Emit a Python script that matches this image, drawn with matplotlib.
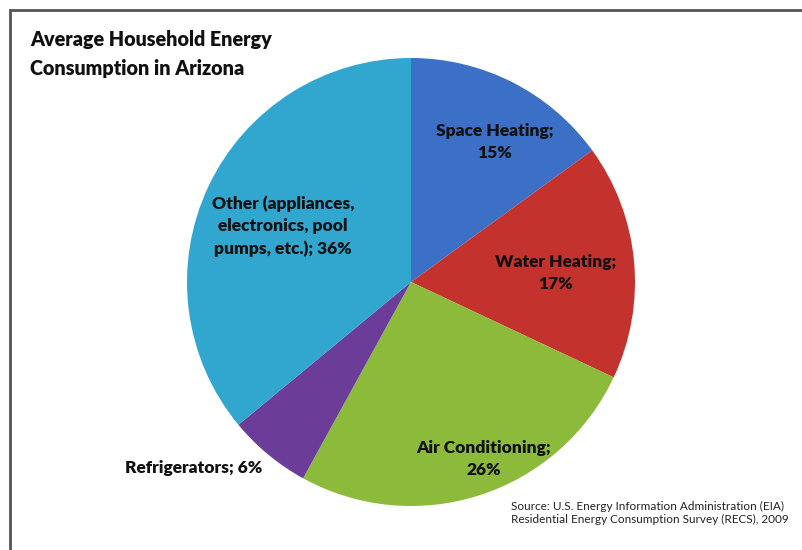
import matplotlib
matplotlib.use("Agg")
import matplotlib.pyplot as plt
from matplotlib.patches import Rectangle

# Data
categories = ["Space Heating", "Water Heating", "Air Conditioning", "Refrigerators",
              "Other (appliances, electronics, pool pumps, etc.)"]
shares = [15, 17, 26, 6, 36]
label_texts = ["Space Heating;\n15%", "Water Heating;\n17%", "Air Conditioning;\n26%",
               "Refrigerators; 6%", "Other (appliances,\nelectronics, pool\npumps, etc.); 36%"]
colors = ["#3b70c6", "#c4322e", "#8cbb3c", "#6b3d99", "#31a6cf"]

title = "Average Household Energy\nConsumption in Arizona"
source = "Source: U.S. Energy Information Administration (EIA)\nResidential Energy Consumption Survey (RECS), 2009"

plt.rcParams['font.family'] = ['Lato', 'DejaVu Sans']

W, H = 802, 550
fig = plt.figure(figsize=(W / 100, H / 100), dpi=100)
fig.patch.set_facecolor("white")

cx, cy, r = 411, 282, 224
ax = fig.add_axes([(cx - r) / W, (H - cy - r) / H, 2 * r / W, 2 * r / H])
ax.pie(shares, colors=colors, startangle=90, counterclock=False, radius=1,
       wedgeprops=dict(linewidth=0))
ax.set_xlim(-1, 1)
ax.set_ylim(-1, 1)
ax.set_aspect("auto")
ax.axis("off")

# label positions (data units of the pie axes)
label_pos = [(0.375, 0.625), (0.647, 0.04), (0.326, -0.79), (-0.969, -0.83), (-0.571, 0.25)]
for txt, (x, y) in zip(label_texts, label_pos):
    ax.text(x, y, txt, ha="center", va="center", fontsize=12.5, fontweight="heavy",
            color="#111111", linespacing=1.45, clip_on=False)

fig.text(30 / W, 1 - 30 / H, title, ha="left", va="top", fontsize=14.2,
         fontweight="heavy", color="#111111", linespacing=1.6)
fig.text(511 / W, 1 - 501 / H, source, ha="left", va="top", fontsize=8.5,
         color="#222222", linespacing=1.25)

# outer frame
fig.add_artist(Rectangle((10 / W, -0.2), 1.2, 1.2 - 10 / H, transform=fig.transFigure,
                         fill=False, edgecolor="#555555", linewidth=2))

fig.savefig("out.png", dpi=100)
